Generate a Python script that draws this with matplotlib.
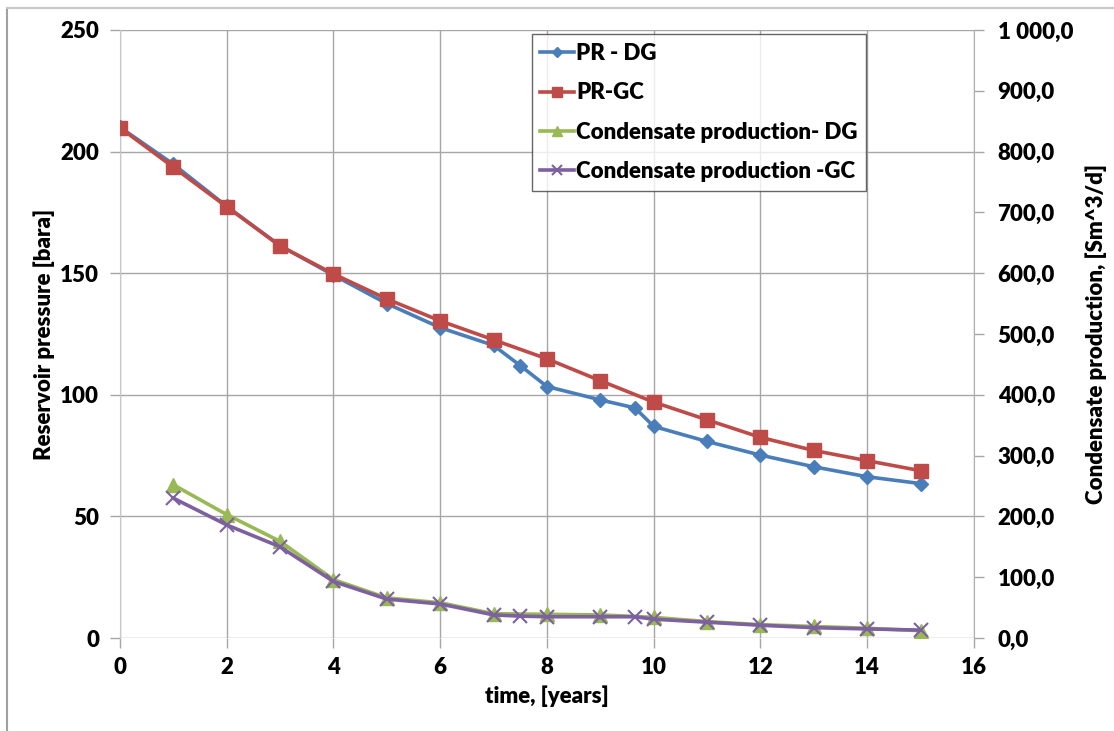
import matplotlib.pyplot as plt
from matplotlib.lines import Line2D
from matplotlib.ticker import FuncFormatter

plt.rcParams['font.family'] = ['Lato', 'DejaVu Sans']
plt.rcParams['font.weight'] = 'heavy'

# reservoir pressure, bara
t_dg = [0, 1, 2, 3, 4, 5, 6, 7, 7.5, 8, 9, 9.65, 10, 11, 12, 13, 14, 15]
pr_dg = [210, 194.8, 177.5, 161.3, 149.2, 137.5, 127.6, 120.3, 112.0, 103.4,
         97.9, 94.6, 87.0, 80.8, 75.2, 70.4, 66.3, 63.5]
t_gc = [0, 1, 2, 3, 4, 5, 6, 7, 8, 9, 10, 11, 12, 13, 14, 15]
pr_gc = [209.8, 193.6, 177.3, 161.2, 149.7, 139.4, 130.4, 122.6, 114.8, 105.8,
         97.0, 89.7, 82.5, 77.1, 72.9, 68.8]

# condensate production, Sm^3/d
tc_dg = [1, 2, 3, 4, 5, 6, 7, 8, 9, 10, 11, 12, 13, 14, 15]
cp_dg = [252, 203, 159, 96, 66, 58, 40, 39, 38, 34, 27, 22, 19, 16, 12]
tc_gc = [1, 2, 3, 4, 5, 6, 7, 7.5, 8, 9, 9.65, 10, 11, 12, 13, 14, 15]
cp_gc = [230, 186, 150, 93, 64, 56, 38, 36, 35, 35, 35, 31, 26, 21, 17, 15, 13]

blue = '#4A7EBB'
red = '#BE4B48'
green = '#98B954'
purple = '#7D60A0'
grid = '#a6a6a6'
fs = 16

fig = plt.figure(figsize=(11.14, 7.31), dpi=100)
ax = fig.add_axes([0.1077, 0.1272, 0.7666, 0.8318])
ax2 = ax.twinx()

l1, = ax.plot(t_dg, pr_dg, color=blue, lw=2.6, marker='D', ms=7, label='PR - DG', zorder=3)
l2, = ax.plot(t_gc, pr_gc, color=red, lw=2.6, marker='s', ms=10, label='PR-GC', zorder=4)
l3, = ax2.plot(tc_dg, cp_dg, color=green, lw=2.6, marker='^', ms=10, label='Condensate production- DG')
l4, = ax2.plot(tc_gc, cp_gc, color=purple, lw=2.6, marker='x', ms=10, mew=1.5,
               label='Condensate production -GC')

ax.set_xlim(0, 16)
ax.set_ylim(0, 250)
ax2.set_ylim(0, 1000)
ax.set_xticks(range(0, 17, 2))
ax.set_yticks(range(0, 251, 50))
ax2.set_yticks(range(0, 1001, 100))
ax2.yaxis.set_major_formatter(FuncFormatter(lambda v, p: f'{v:,.1f}'.replace(',', ' ').replace('.', ',')))

ax.grid(True, color=grid, lw=1)
ax.set_axisbelow(True)
for a in (ax, ax2):
    for s in a.spines.values():
        s.set_visible(False)
    a.tick_params(labelsize=fs, color=grid, length=7, width=1)
ax.tick_params(axis='x', pad=7)
ax.tick_params(axis='y', pad=8)
ax2.tick_params(axis='y', pad=10)
ax2.spines['right'].set_visible(True)
ax2.spines['right'].set_color('#b0b0b0')
ax.spines['left'].set_visible(True)
ax.spines['left'].set_color('#c8c8c8')

ax.set_xlabel('time, [years]', fontsize=fs, fontweight='heavy', labelpad=5)
ax.set_ylabel('Reservoir pressure [bara]', fontsize=fs, fontweight='heavy', labelpad=4)
ax2.set_ylabel('Condensate production, [Sm^3/d]', fontsize=fs, fontweight='heavy', labelpad=9)

leg = ax2.legend(handles=[l1, l2, l3, l4], loc='upper left', bbox_to_anchor=(0.482, 0.993),
                 fontsize=fs, frameon=True, fancybox=False, edgecolor='#404040',
                 handlelength=1.5, handletextpad=0.1, labelspacing=0.82, borderpad=0.4,
                 markerscale=0.75, borderaxespad=0)
leg.get_frame().set_linewidth(1)

# chart frame edges
fig.add_artist(Line2D([7 / 1114, 7 / 1114], [0, 1 - 8 / 731], color='#a0a0a0', lw=1.5))
fig.add_artist(Line2D([7 / 1114, 1], [1 - 8 / 731, 1 - 8 / 731], color='#c8c8c8', lw=1.5))

fig.savefig('out.png', dpi=100)
